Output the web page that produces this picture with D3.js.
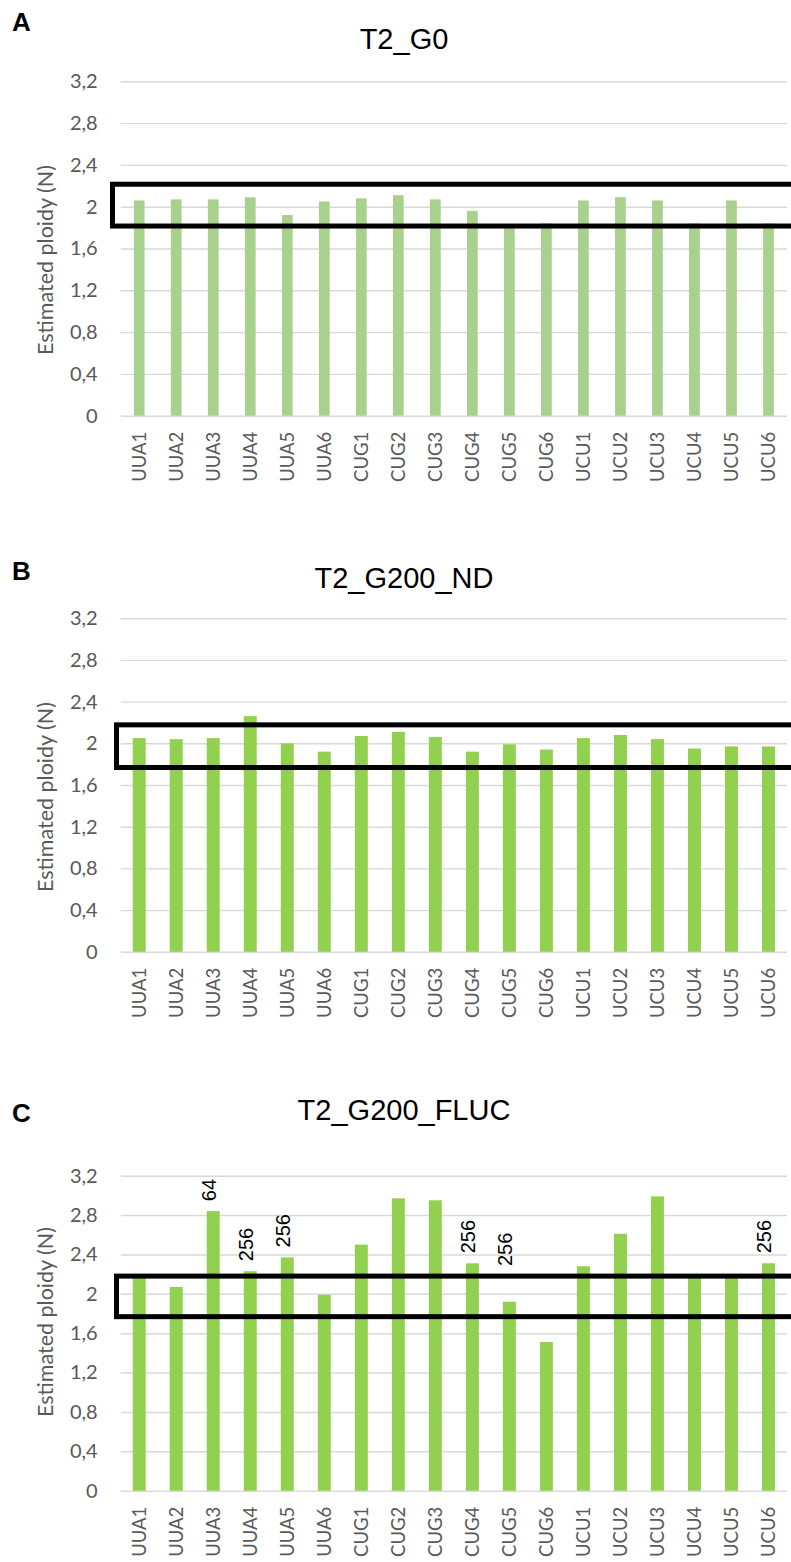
<!DOCTYPE html>
<html>
<head>
<meta charset="utf-8">
<script src="https://cdn.jsdelivr.net/npm/d3@7"></script>
<style>
  html, body { margin: 0; padding: 0; background: #ffffff; }
  svg { display: block; }
</style>
</head>
<body>
<svg id="chart" width="791" height="1562"></svg>
<script>
// Strains on the x axis (same order in all three panels)
const categories = [
  "UUA1", "UUA2", "UUA3", "UUA4", "UUA5", "UUA6",
  "CUG1", "CUG2", "CUG3", "CUG4", "CUG5", "CUG6",
  "UCU1", "UCU2", "UCU3", "UCU4", "UCU5", "UCU6"
];

// Estimated ploidy (N) per strain
const ploidyG0 = [
  2.06, 2.07, 2.07, 2.09, 1.92, 2.05,
  2.08, 2.11, 2.07, 1.96, 1.82, 1.84,
  2.06, 2.09, 2.06, 1.84, 2.06, 1.84
];
const ploidyG200ND = [
  2.05, 2.04, 2.05, 2.26, 2.00, 1.92,
  2.07, 2.11, 2.06, 1.92, 1.99, 1.94,
  2.05, 2.08, 2.04, 1.95, 1.97, 1.97
];
const ploidyG200FLUC = [
  2.18, 2.07, 2.84, 2.23, 2.37, 1.99,
  2.50, 2.97, 2.95, 2.31, 1.92, 1.51,
  2.28, 2.61, 2.99, 2.18, 2.18, 2.31
];

// Text notes written above some FLUC bars
const flucNotes = [
  "", "", "64", "256", "256", "",
  "", "", "", "256", "256", "",
  "", "", "", "", "", "256"
];

// Diploid window outlined in each panel (ploidy units)
const windowG0 = [1.815, 2.215];
const windowG200ND = [1.768, 2.177];
const windowG200FLUC = [1.768, 2.18];

// Y axis ticks
const yTickValues = [0, 0.4, 0.8, 1.2, 1.6, 2, 2.4, 2.8, 3.2];
const yTickLabels = ["0", "0,4", "0,8", "1,2", "1,6", "2", "2,4", "2,8", "3,2"];

const panelLetters = ["A", "B", "C"];
const panelTitles = ["T2_G0", "T2_G200_ND", "T2_G200_FLUC"];
const axisTitle = "Estimated ploidy (N)";

const svg = d3.select("#chart");

const panels = [
  { values: ploidyG0, window: windowG0, notes: null,
    top: 81.3, bottom: 415.7, boxLeft: 112.5, titleY: 49, letterY: 31,
    axisTitleY: 260, pad: 0.71, color: "#a9d18e" },
  { values: ploidyG200ND, window: windowG200ND, notes: null,
    top: 618.2, bottom: 951.8, boxLeft: 116.5, titleY: 588, letterY: 580,
    axisTitleY: 797, pad: 0.65, color: "#92d050" },
  { values: ploidyG200FLUC, window: windowG200FLUC, notes: flucNotes,
    top: 1175.7, bottom: 1490.7, boxLeft: 116.5, titleY: 1120, letterY: 1122,
    axisTitleY: 1322, pad: 0.65, color: "#92d050" }
];

const plotLeft = 120.7, plotRight = 787;
const grey = "#595959";
const catFont = "Lato, 'Open Sans', sans-serif";
const arialFont = "'Liberation Sans', Arial, sans-serif";

panels.forEach((p, i) => {
  const g = svg.append("g");

  const x = d3.scaleBand()
    .domain(categories)
    .range([plotLeft, plotRight])
    .paddingInner(p.pad)
    .paddingOuter(p.pad / 2);

  const y = d3.scaleLinear()
    .domain([0, 3.2])
    .range([p.bottom, p.top]);

  // gridlines + tick labels
  const yAxis = d3.axisLeft(y)
    .tickValues(yTickValues)
    .tickFormat((d, k) => yTickLabels[k])
    .tickSize(-(plotRight - plotLeft))
    .tickPadding(23);

  const ya = g.append("g")
    .attr("transform", `translate(${plotLeft},0)`)
    .call(yAxis);
  ya.select(".domain").remove();
  ya.selectAll(".tick line").attr("stroke", "#d9d9d9").attr("stroke-width", 1.4);
  ya.selectAll(".tick text")
    .attr("fill", grey)
    .style("font-family", catFont)
    .style("font-size", "20px");

  // bars
  g.append("g").selectAll("rect")
    .data(p.values)
    .join("rect")
    .attr("x", (d, k) => x(categories[k]))
    .attr("width", x.bandwidth())
    .attr("y", d => y(d))
    .attr("height", d => y(0) - y(d))
    .attr("fill", p.color);

  // category labels
  const xa = g.append("g")
    .attr("transform", `translate(0,${p.bottom})`)
    .call(d3.axisBottom(x).tickSize(0).tickPadding(0));
  xa.select(".domain").remove();
  xa.selectAll(".tick text")
    .attr("transform", "rotate(-90)")
    .attr("text-anchor", "end")
    .attr("x", -16)
    .attr("y", 0)
    .attr("dy", "0.36em")
    .attr("fill", grey)
    .style("font-family", catFont)
    .style("font-size", "18.5px");

  // diploid window outline (open to the right edge)
  g.append("rect")
    .attr("x", p.boxLeft)
    .attr("y", y(p.window[1]))
    .attr("width", 800 - p.boxLeft)
    .attr("height", y(p.window[0]) - y(p.window[1]))
    .attr("fill", "none")
    .attr("stroke", "#000")
    .attr("stroke-width", 5);

  // notes above bars
  if (p.notes) {
    const topOf = d => Math.max(d, p.window[1]);
    g.append("g").selectAll("text")
      .data(p.values.map((v, k) => ({ v, k, t: p.notes[k] })).filter(o => o.t))
      .join("text")
      .attr("transform", o =>
        `translate(${x(categories[o.k]) + x.bandwidth() / 2 + 3},${y(topOf(o.v)) - 10}) rotate(-90)`)
      .attr("text-anchor", "start")
      .attr("fill", "#000")
      .style("font-family", arialFont)
      .style("font-size", "20px")
      .text(o => o.t);
  }

  // axis title
  g.append("text")
    .attr("transform", `translate(53,${p.axisTitleY}) rotate(-90)`)
    .attr("text-anchor", "middle")
    .attr("fill", grey)
    .style("font-family", catFont)
    .style("font-size", "21.5px")
    .text(axisTitle);

  // panel title
  g.append("text")
    .attr("x", 404)
    .attr("y", p.titleY)
    .attr("text-anchor", "middle")
    .attr("fill", "#000")
    .style("font-family", arialFont)
    .style("font-size", "29px")
    .text(panelTitles[i]);

  // panel letter
  g.append("text")
    .attr("x", 12)
    .attr("y", p.letterY)
    .attr("fill", "#000")
    .style("font-family", arialFont)
    .style("font-size", "26px")
    .style("font-weight", "bold")
    .text(panelLetters[i]);
});
</script>
</body>
</html>
